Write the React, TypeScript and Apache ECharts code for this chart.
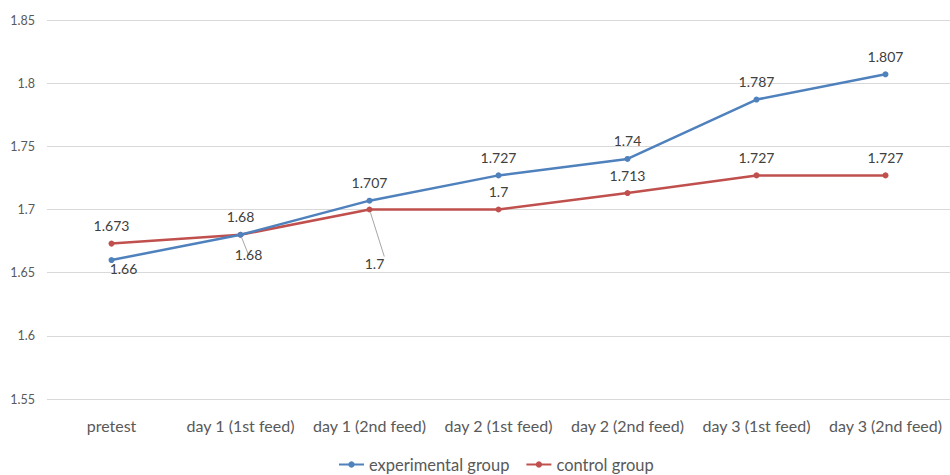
import React, { useEffect, useRef } from "react";
import * as echarts from "echarts";

const categories = [
  "pretest",
  "day 1 (1st feed)",
  "day 1 (2nd feed)",
  "day 2 (1st feed)",
  "day 2 (2nd feed)",
  "day 3 (1st feed)",
  "day 3 (2nd feed)",
];
const experimental = [1.66, 1.68, 1.707, 1.727, 1.74, 1.787, 1.807];
const control = [1.673, 1.68, 1.7, 1.7, 1.713, 1.727, 1.727];

const FONT = "Lato, 'Open Sans', sans-serif";
const BLUE = "#4f81bd";
const RED = "#c0504d";

// label placement per point: experimental mostly above, control mostly above except overlaps
const expPos = ["bottom", "top", "top", "top", "top", "top", "top"];
const ctlPos = ["top", "bottom", "bottom", "top", "top", "top", "top"];

export default function App() {
  const ref = useRef<HTMLDivElement>(null);

  useEffect(() => {
    if (!ref.current) return;
    const chart = echarts.init(ref.current, undefined, { renderer: "svg" });

    const labelStyle = { color: "#404040", fontSize: 14, fontFamily: FONT, distance: 8 };

    const expData = experimental.map((v, i) => ({
      value: v,
      label: { position: expPos[i], offset: i === 0 ? [12, -10] : [0, 0] },
    }));
    const ctlData = control.map((v, i) => {
      if (i === 1) {
        return {
          value: v,
          label: { position: "bottom", offset: [8, 2] },
          labelLine: { show: true, lineStyle: { color: "#a6a6a6", width: 1 } },
        };
      }
      if (i === 2) {
        return {
          value: v,
          label: { position: "bottom", offset: [5, 36] },
          labelLine: { show: true, lineStyle: { color: "#a6a6a6", width: 1 } },
        };
      }
      return { value: v, label: { position: ctlPos[i] } };
    });

    chart.setOption({
      animation: false,
      textStyle: { fontFamily: FONT },
      grid: { left: 47, top: 20, width: 913, height: 379, containLabel: false },
      legend: {
        left: 333,
        top: 451,
        itemWidth: 25,
        itemHeight: 8,
        itemGap: 16,
        textStyle: { color: "#595959", fontSize: 16.5, fontFamily: FONT },
        data: ["experimental group", "control group"],
      },
      xAxis: {
        type: "category",
        data: categories,
        boundaryGap: true,
        axisLine: { show: false },
        axisTick: { show: false },
        axisLabel: { color: "#595959", fontSize: 16, fontFamily: FONT, margin: 18, interval: 0 },
      },
      yAxis: {
        type: "value",
        min: 1.55,
        max: 1.85,
        interval: 0.05,
        axisLine: { show: false },
        axisTick: { show: false },
        axisLabel: {
          color: "#595959",
          fontSize: 12.5,
          fontFamily: FONT,
          margin: 12,
          formatter: (v: number) => String(+v.toFixed(2)),
        },
        splitLine: { lineStyle: { color: "#d9d9d9", width: 1 } },
      },
      series: [
        {
          name: "experimental group",
          type: "line",
          data: expData,
          symbol: "circle",
          symbolSize: 6,
          lineStyle: { color: BLUE, width: 2.5 },
          itemStyle: { color: BLUE },
          label: { show: true, ...labelStyle },
          z: 3,
        },
        {
          name: "control group",
          type: "line",
          data: ctlData,
          symbol: "circle",
          symbolSize: 6,
          lineStyle: { color: RED, width: 2.5 },
          itemStyle: { color: RED },
          label: { show: true, ...labelStyle },
          labelLine: { show: false },
          z: 2,
        },
      ],
    });

    return () => chart.dispose();
  }, []);

  return (
    <div
      ref={ref}
      style={{ position: "fixed", left: 0, top: 0, width: 950, height: 475, background: "#fff" }}
    />
  );
}
